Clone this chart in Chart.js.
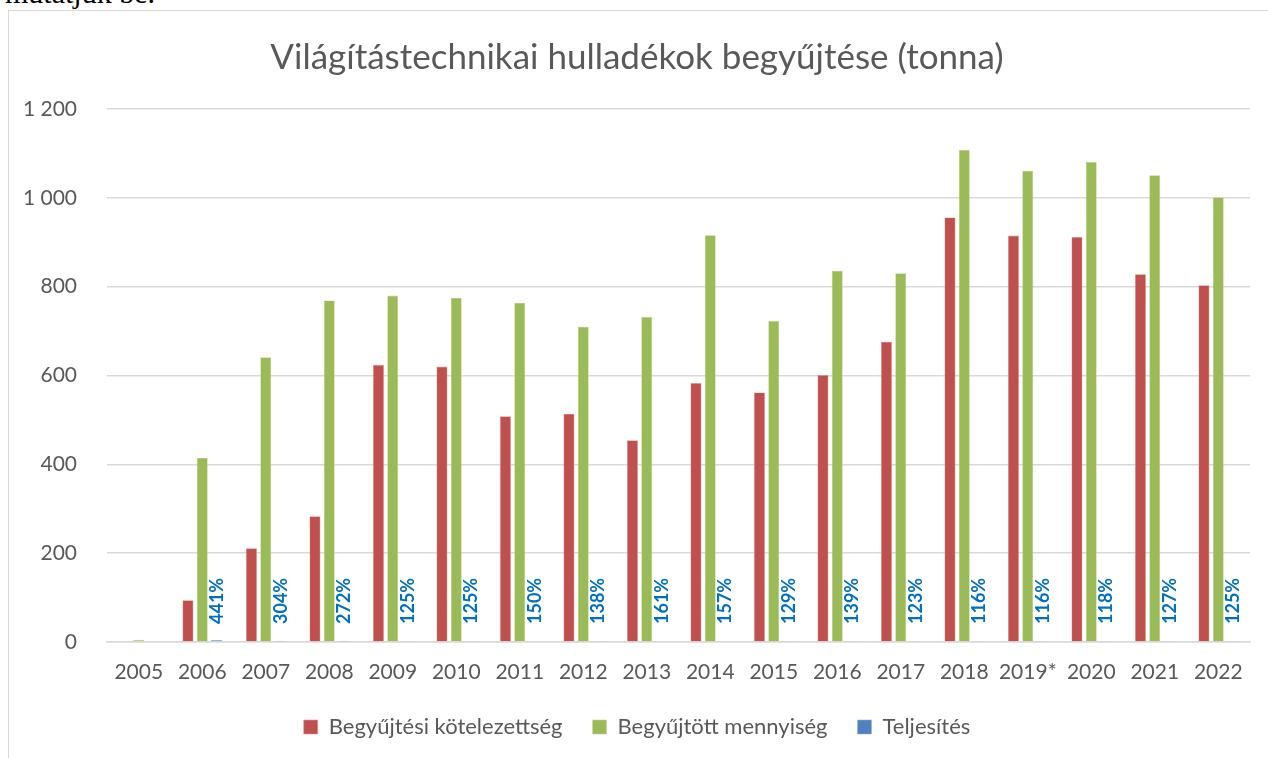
<!DOCTYPE html>
<html>
<head>
<meta charset="utf-8">
<script src="https://cdn.jsdelivr.net/npm/chart.js@4/dist/chart.umd.min.js"></script>
<style>
  html, body { margin: 0; padding: 0; background: #fff; overflow: hidden; }
  #wrap { position: relative; width: 1268px; height: 758px; }
  #frame { position: absolute; left: 8px; top: 10px; width: 1300px; height: 800px; border: 1px solid #d9d9d9; box-sizing: border-box; }
  #above { position: absolute; left: 5px; top: -24px; font-family: "Liberation Serif", serif; font-size: 30px; line-height: normal; color: #000; white-space: nowrap; }
  #c { position: absolute; left: 0; top: 0; }
</style>
</head>
<body>
<div id="wrap">
  <div id="above">mutatjuk be.</div>
  <div id="frame"></div>
  <canvas id="c" width="1268" height="758"></canvas>
</div>
<script>
const categories = ["2005","2006","2007","2008","2009","2010","2011","2012","2013","2014","2015","2016","2017","2018","2019*","2020","2021","2022"];
const kotelezettseg = [0, 94, 211, 283, 624, 620, 508, 514, 454, 583, 562, 601, 676, 956, 915, 912, 828, 803];
const begyujtott = [5, 415, 641, 769, 780, 775, 764, 710, 732, 916, 723, 836, 830, 1108, 1061, 1081, 1051, 1001];
const teljesites = [null, 4.41, 3.04, 2.72, 1.25, 1.25, 1.50, 1.38, 1.61, 1.57, 1.29, 1.39, 1.23, 1.16, 1.16, 1.18, 1.27, 1.25];
const yTicks = [0, 200, 400, 600, 800, 1000, 1200];

const FONT = "Lato, 'Open Sans', sans-serif";

const pctLabels = {
  id: 'pctLabels',
  afterDatasetsDraw(chart) {
    const meta = chart.getDatasetMeta(2);
    const yScale = chart.scales.y;
    const base = yScale.getPixelForValue(0);
    const ctx = chart.ctx;
    ctx.save();
    ctx.fillStyle = '#0070C0';
    ctx.font = "bold 18px " + FONT;
    ctx.textAlign = 'left';
    ctx.textBaseline = 'middle';
    meta.data.forEach((bar, i) => {
      const v = teljesites[i];
      if (v === null || v === undefined) return;
      ctx.save();
      ctx.translate(bar.x, base - 18);
      ctx.rotate(-Math.PI / 2);
      ctx.fillText(Math.round(v * 100) + '%', 0, 1);
      ctx.restore();
    });
    ctx.restore();
  }
};

new Chart(document.getElementById('c'), {
  type: 'bar',
  data: {
    labels: categories,
    datasets: [
      { label: 'Begyűjtési kötelezettség', data: kotelezettseg, backgroundColor: '#C0504D', borderColor: '#D99593', borderWidth: 0.6 },
      { label: 'Begyűjtött mennyiség', data: begyujtott, backgroundColor: '#9BBB59', borderColor: '#C3D69B', borderWidth: 0.6 },
      { label: 'Teljesítés', data: teljesites, backgroundColor: '#4F81BD', borderColor: '#95B3D7', borderWidth: 0.6 }
    ]
  },
  options: {
    responsive: false,
    animation: false,
    devicePixelRatio: 1,
    layout: { padding: { left: 24, right: 18, top: 12, bottom: 10 } },
    datasets: { bar: { categoryPercentage: 0.675, barPercentage: 0.77 } },
    plugins: {
      title: {
        display: true,
        text: 'Világítástechnikai hulladékok begyűjtése (tonna)',
        color: '#595959',
        font: { family: FONT, size: 35, weight: 'normal' },
        padding: { top: 25, bottom: 30 }
      },
      legend: {
        position: 'bottom',
        labels: {
          color: '#595959',
          font: { family: FONT, size: 22 },
          boxWidth: 14, boxHeight: 14,
          padding: 30
        }
      },
      tooltip: { enabled: false }
    },
    scales: {
      x: {
        afterFit(axis) { axis.height = 44; },
        grid: { display: false, drawTicks: false },
        border: { display: true, color: '#d9d9d9', width: 1.5 },
        ticks: { color: '#595959', font: { family: FONT, size: 21 }, padding: 18, maxRotation: 0, autoSkip: false }
      },
      y: {
        min: 0, max: 1200,
        afterFit(axis) { axis.width = 83; },
        afterBuildTicks(axis) { axis.ticks = yTicks.map(v => ({ value: v })); },
        grid: { color: '#d9d9d9', lineWidth: 1.5, drawTicks: false },
        border: { display: false },
        ticks: {
          color: '#595959', font: { family: FONT, size: 21 }, padding: 30,
          callback: v => String(v).replace(/\B(?=(\d{3})+(?!\d))/g, ' ')
        }
      }
    }
  },
  plugins: [pctLabels]
});
</script>
</body>
</html>
